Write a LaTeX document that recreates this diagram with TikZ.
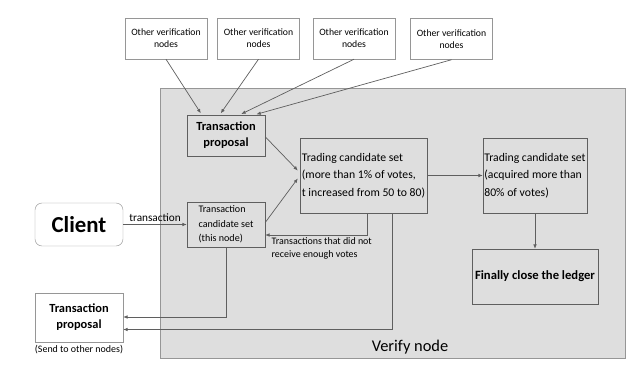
\documentclass[tikz,border=0pt]{standalone}
\usepackage{fontspec}
\setmainfont{Carlito}
\usetikzlibrary{arrows.meta}
\usetikzlibrary{calc}
\definecolor{panel}{RGB}{222,222,222}
\definecolor{edge}{RGB}{95,95,95}
\definecolor{frame}{RGB}{150,150,150}
\tikzset{
	other/.style={rectangle, minimum width=2.46cm, minimum height=1.23cm, inner sep=1pt, align=center, draw=frame, fill=white, font=\fontsize{8.3}{10}\selectfont},
	prop/.style={rectangle, minimum width=2.34cm, minimum height=1.23cm, inner sep=1pt, align=center, draw=edge, fill=panel, font=\bfseries\fontsize{10.6}{13.5}\selectfont},
	cand/.style={rectangle, minimum width=2.34cm, minimum height=1.35cm, inner sep=1pt, align=left, draw=edge, fill=panel, font=\fontsize{8.6}{12.5}\selectfont},
	trade/.style={rectangle, minimum height=2.25cm, inner sep=1pt, align=left, draw=edge, fill=panel, font=\fontsize{10}{14.8}\selectfont},
	ledger/.style={rectangle, minimum width=3.78cm, minimum height=1.65cm, inner sep=1pt, align=center, draw=edge, fill=panel, font=\bfseries\fontsize{10.8}{13}\selectfont},
	client/.style={rectangle, rounded corners=6pt, minimum width=2.64cm, minimum height=1.29cm, draw=frame, fill=white, font=\bfseries\fontsize{19.5}{22}\selectfont},
	send/.style={rectangle, minimum width=2.64cm, minimum height=1.47cm, inner sep=1pt, align=center, draw=frame, fill=white, font=\bfseries\fontsize{10.6}{13.5}\selectfont},
	note/.style={inner sep=1pt, align=left, font=\fontsize{8.5}{11}\selectfont},
	arrow/.style={draw=edge, line width=0.6pt, -{Latex[length=1.3mm, width=1.1mm]}},
}
\tikzstyle{line} = [draw=edge, line width=0.6pt]

\begin{document}
\begin{tikzpicture}[x=0.03cm, y=-0.03cm]
\useasboundingbox (0,0) rectangle (642,375);

% verify node panel
\draw [fill=panel, draw=frame] (160,88) rectangle (625,358);
\node [font=\fontsize{14}{16}\selectfont] (verify) at (410,347) {Verify node};

\node [other] (other1) at (166,38.5) {Other verification\\nodes};
\node [other] (other2) at (258.5,38.5) {Other verification\\nodes};
\node [other] (other3) at (354,38.5) {Other verification\\nodes};
\node [other] (other4) at (451.5,39) {Other verification\\nodes};

\node [prop] (prop) at (226,135.5) {Transaction\\proposal};
\node [cand] (cand) at (226,224.5) {Transaction\\candidate set\\(this node)};
\node [trade, minimum width=3.81cm] (trade1) at (363.5,175.5) {Trading candidate set\\(more than 1\% of votes,\\t increased from 50 to 80)};
\node [trade, minimum width=3.12cm] (trade2) at (535,175.5) {Trading candidate set\\(acquired more than\\80\% of votes)};
\node [ledger] (ledger) at (535,276.5) {Finally close the ledger};

\node [client] (client) at (79,224.5) {Client};
\node [send] (send) at (79,317.5) {Transaction\\proposal};
\node [note, below=1pt] (sendnote) at (send.south) {(Send to other nodes)};

% other nodes to proposal
\draw [arrow, shorten >=1.5pt] (other1.south) -- ($(prop.north west)+(15,0)$);
\draw [arrow, shorten >=1.5pt] (other2.south) -- ($(prop.north west)+(33,0)$);
\draw [arrow, shorten >=1.5pt] (other3.south) -- ($(prop.north west)+(53,0)$);
\draw [arrow, shorten >=1.5pt] (other4.south) -- ($(prop.north west)+(68,0)$);

% into trading set
\draw [arrow] ($(prop.north east)+(0,22)$) -- ($(trade1.west)+(-2,-5)$);
\draw [arrow] ($(cand.east)+(0,-2)$) -- ($(trade1.west)+(-2,3)$);
\draw [arrow] (client) -- node [note, above=1pt, font=\fontsize{9.6}{11}\selectfont] (txlabel) {transaction} (cand);

\draw [arrow] (trade1) -- (trade2);
\draw [arrow] (trade2) -- (ledger);

% back to candidate set and out to other nodes
\draw [arrow] ($(trade1.south west)+(68,0)$) |- ($(cand.east)+(0,10.5)$);
\node [note, anchor=north west] (backnote) at ($(cand.east)+(5,12)$) {Transactions that did not\\receive enough votes};
\draw [arrow] (cand.south) |- ($(send.east)+(0,-0.5)$);
\draw [arrow] ($(trade1.south west)+(93,0)$) |- ($(send.east)+(0,12)$);
\end{tikzpicture}
\end{document}
